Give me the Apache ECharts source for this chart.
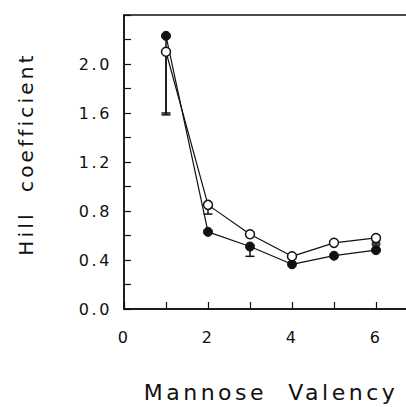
<!DOCTYPE html>
<html>
<head>
<meta charset="utf-8">
<script src="https://cdn.jsdelivr.net/npm/echarts@6/dist/echarts.min.js"></script>
<style>
    html, body { margin: 0; padding: 0; background: #fff; }
    #chart { width: 406px; height: 407px; }
    /* the scanned figure uses a wide, tracked typeface */
    #chart text { letter-spacing: 0.16em; }
</style>
</head>
<body>
<div id="chart"></div>
<script>
// ──── data ────
const valency = [1, 2, 3, 4, 5, 6];
const hillOpen = [2.10, 0.85, 0.61, 0.43, 0.54, 0.58];
const hillFilled = [2.23, 0.63, 0.51, 0.365, 0.435, 0.48];
// second filled point hiding under the x=6 marker
const extraFilledX = [6];
const extraFilledY = [0.53];
// error bars (only the lower arm is visible)
const errX = [1, 1, 2, 3];
const errLow = [1.60, 1.585, 0.775, 0.43];
const errHigh = [2.10, 2.23, 0.85, 0.51];

const xLabels = [0, 2, 4, 6];
const yLabels = [0.0, 0.4, 0.8, 1.2, 1.6, 2.0];

const FONT = 'DejaVu Sans';
const INK = '#111';

const zip = (xs, ys) => xs.map((x, i) => [x, ys[i]]);

const chart = echarts.init(document.getElementById('chart'), null, { renderer: 'svg' });

chart.setOption({
    animation: false,
    backgroundColor: '#fff',
    grid: {
        left: 124, top: 15, width: 294, height: 294,
        outerBoundsMode: 'none', containLabel: false,
        show: true, borderColor: INK, borderWidth: 1.5,
    },
    xAxis: {
        type: 'value', min: 0, max: 7, interval: 1,
        name: 'Mannose  Valency', nameLocation: 'middle', nameGap: 72,
        nameTextStyle: { fontFamily: FONT, fontSize: 22, color: INK },
        axisLine: { lineStyle: { color: INK, width: 1.5 } },
        axisTick: { inside: true, length: 7, lineStyle: { color: INK, width: 1.2 } },
        axisLabel: {
            margin: 20, fontFamily: FONT, fontSize: 16, color: INK,
            formatter: v => xLabels.includes(v) ? String(v) : '',
        },
        splitLine: { show: false },
    },
    yAxis: {
        type: 'value', min: 0, max: 2.4, interval: 0.2,
        name: 'Hill  coefficient', nameLocation: 'middle', nameGap: 88,
        nameTextStyle: { fontFamily: FONT, fontSize: 20, color: INK, padding: [0, 0, 0, 16] },
        axisLine: { lineStyle: { color: INK, width: 1.5 } },
        axisTick: { inside: true, length: 7, lineStyle: { color: INK, width: 1.2 } },
        axisLabel: {
            margin: 12, fontFamily: FONT, fontSize: 16, color: INK,
            formatter: v => yLabels.some(t => Math.abs(t - v) < 1e-6) ? v.toFixed(1) : '',
        },
        splitLine: { show: false },
    },
    series: [
        {
            type: 'custom',
            z: 1,
            clip: false,
            data: errX.map((x, i) => [x, errLow[i], errHigh[i]]),
            renderItem(params, api) {
                const lo = api.coord([api.value(0), api.value(1)]);
                const hi = api.coord([api.value(0), api.value(2)]);
                const cap = 4.5;
                const st = { stroke: INK, lineWidth: 1.5 };
                return {
                    type: 'group',
                    children: [
                        { type: 'line', shape: { x1: lo[0], y1: lo[1], x2: hi[0], y2: hi[1] }, style: st },
                        { type: 'line', shape: { x1: lo[0] - cap, y1: lo[1], x2: lo[0] + cap, y2: lo[1] }, style: st },
                    ],
                };
            },
        },
        {
            type: 'line',
            z: 2,
            data: zip(valency, hillFilled),
            symbol: 'circle', symbolSize: 9,
            lineStyle: { color: INK, width: 1.2 },
            itemStyle: { color: INK, borderColor: INK, borderWidth: 1 },
        },
        {
            type: 'scatter',
            z: 2,
            data: zip(extraFilledX, extraFilledY),
            symbol: 'circle', symbolSize: 9,
            itemStyle: { color: INK },
        },
        {
            type: 'line',
            z: 3,
            data: zip(valency, hillOpen),
            symbol: 'circle', symbolSize: 9,
            lineStyle: { color: INK, width: 1.2 },
            itemStyle: { color: '#fff', borderColor: INK, borderWidth: 1.5 },
        },
    ],
});
</script>
</body>
</html>
